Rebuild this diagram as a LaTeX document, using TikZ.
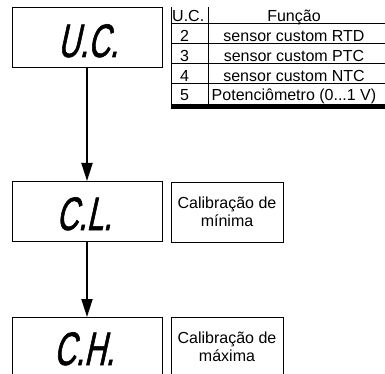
\documentclass[tikz,border=0pt]{standalone}
\usepackage{fontspec}
\setmainfont{Liberation Sans}
\newfontfamily\segfont[FakeStretch=0.64,FakeSlant=0.22,FakeBold=1.2]{Liberation Sans}
\usetikzlibrary{arrows.meta}
\begin{document}
\begin{tikzpicture}[x=1pt,y=-1pt,
  dispbox/.style={draw, line width=0.8pt, minimum width=150pt, minimum height=60pt, inner sep=0pt, outer sep=0pt, anchor=north west},
  notebox/.style={draw, line width=0.8pt, minimum width=112pt, minimum height=60pt, inner sep=0pt, outer sep=0pt, anchor=north west, align=center, font=\fontsize{16}{18.5}\selectfont},
  segtext/.style={inner sep=0pt, anchor=base, font=\segfont\fontsize{47}{47}\selectfont},
  tabtext/.style={inner sep=0pt, anchor=base, font=\fontsize{16}{18.5}\selectfont},
  tabline/.style={line width=0.8pt},
  conn/.style={line width=1.8pt, -{Triangle[length=18pt,width=11pt]}}
]
\useasboundingbox (0,0) rectangle (385,374);
% display boxes
\node[dispbox] (uc) at (12,7) {};
\node[dispbox] (cl) at (12,181) {};
\node[dispbox] (ch) at (12,317) {};
\node[segtext] (uct) at (88,57) {U.C.};
\node[segtext] (clt) at (84,230) {C.L.};
\node[segtext] (cht) at (84,365) {C.H.};
% note boxes
\node[notebox] (nmin) at (171,182) {Calibração de\\mínima};
\node[notebox] (nmax) at (171,317) {Calibração de\\máxima};
% connectors
\draw[conn] (uc.south) -- (cl.north);
\draw[conn] (cl.south) -- (ch.north);
% table
\draw[tabline] (171,7) -- (171,107);
\draw[tabline] (208,7) -- (208,104);
\draw[tabline] (171,23.5) -- (385,23.5);
\draw[tabline] (171,43) -- (385,43);
\draw[tabline] (171,63) -- (385,63);
\draw[tabline] (171,83) -- (385,83);
\draw[tabline] (171,104) -- (385,104);
\fill (171,105) rectangle (385,109);
\node[tabtext, anchor=base west] (h1) at (172,21.8) {U.C.};
\node[tabtext] (h2) at (294,21.8) {Função};
\node[tabtext] (r1a) at (184.5,41.2) {2};
\node[tabtext] (r1b) at (294,41.2) {sensor custom RTD};
\node[tabtext] (r2a) at (184.5,61.3) {3};
\node[tabtext] (r2b) at (294,61.3) {sensor custom PTC};
\node[tabtext] (r3a) at (184.5,81.2) {4};
\node[tabtext] (r3b) at (294,81.2) {sensor custom NTC};
\node[tabtext] (r4a) at (184.5,101) {5};
\node[tabtext] (r4b) at (294,101) {Potenciômetro (0...1 V)};
\end{tikzpicture}
\end{document}
